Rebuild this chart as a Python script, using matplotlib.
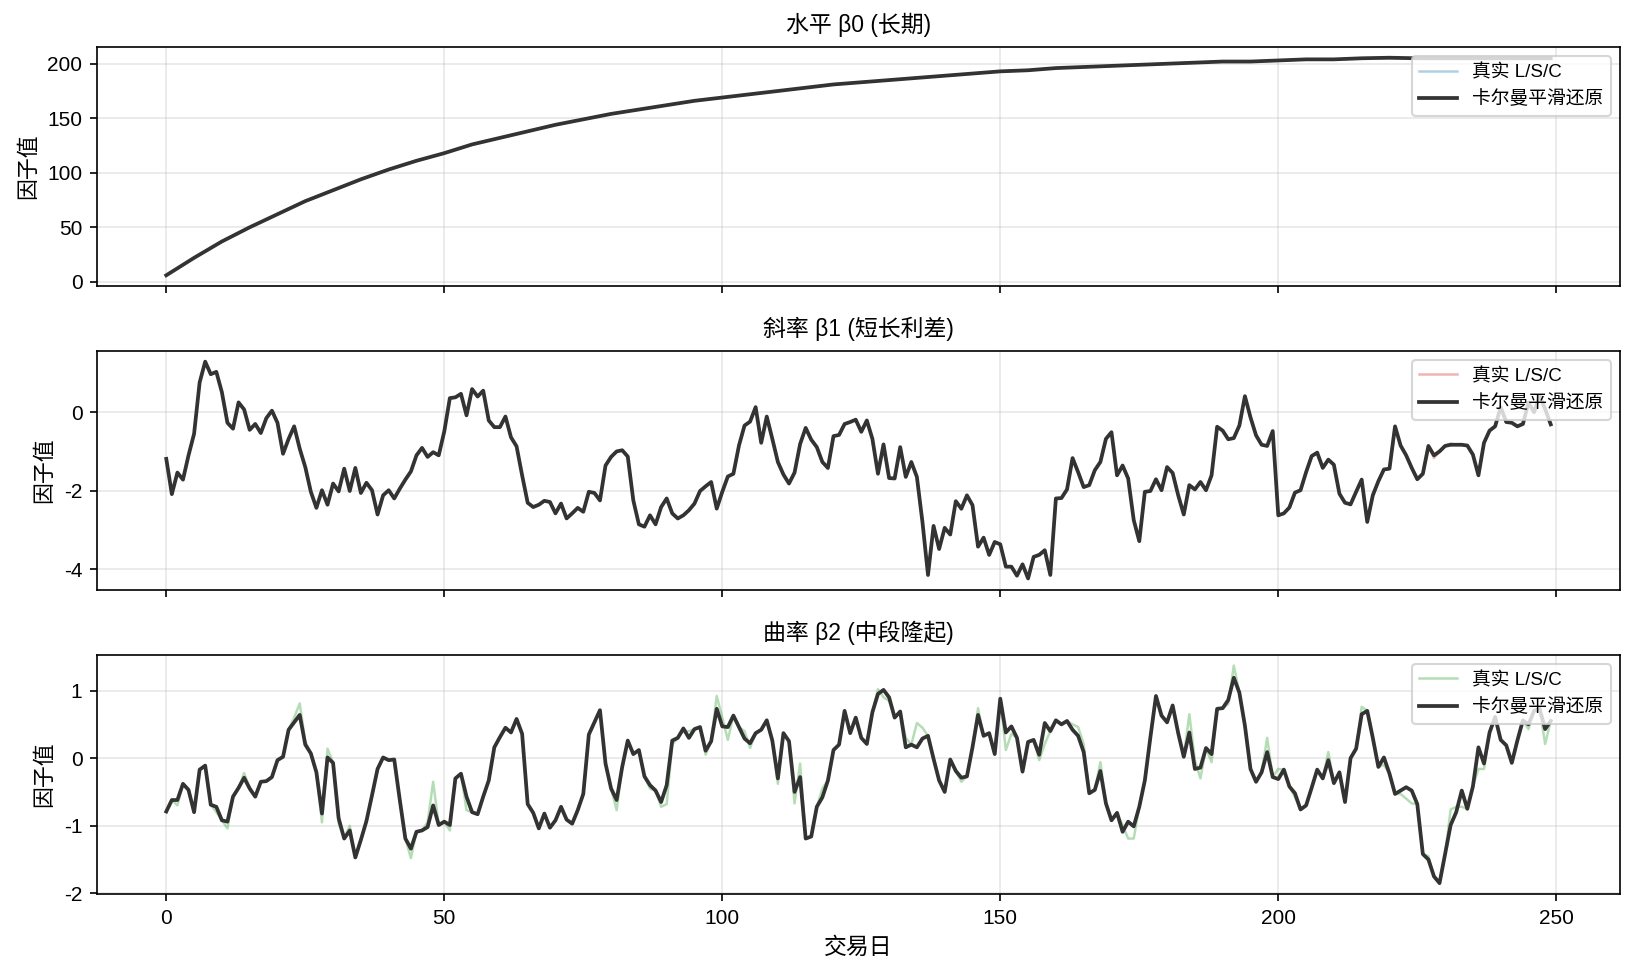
import matplotlib
matplotlib.use("Agg")
import matplotlib.pyplot as plt
import numpy as np

plt.rcParams['font.family'] = ['Liberation Sans', 'Noto Sans CJK SC', 'DejaVu Sans']
plt.rcParams['axes.unicode_minus'] = False

# level factor, read every 5 trading days
level_days = [0, 5, 10, 15, 20, 25, 30, 35, 40, 45, 50, 55, 60, 65, 70, 75, 80, 85, 90, 95,
              100, 105, 110, 115, 120, 125, 130, 135, 140, 145, 150, 155, 160, 165, 170, 175,
              180, 185, 190, 195, 200, 205, 210, 215, 220, 225, 230, 235, 240, 245, 249]
level_true = [6, 22, 37, 50, 62, 74, 84, 94, 103, 111, 118, 126, 132, 138, 144, 149, 154, 158,
              162, 166, 169, 172, 175, 178, 181, 183, 185, 187, 189, 191, 193, 194, 196, 197,
              198, 199, 200, 201, 202, 202, 203, 204, 204, 205, 205, 205, 205, 205, 205, 205, 205]
level_smooth = [6, 22, 37, 50, 62, 74, 84, 94, 103, 111, 118, 126, 132, 138, 144, 149, 154, 158,
                162, 166, 169, 172, 175, 178, 181, 183, 185, 187, 189, 191, 193, 194, 196, 197,
                198, 199, 200, 201, 202, 202, 203, 204, 204, 205, 205.5, 205, 205, 205, 205, 205, 205]

slope_smooth = [
    -1.19, -2.09, -1.54, -1.72, -1.10, -0.55, 0.76, 1.29, 0.97, 1.03,
    0.51, -0.27, -0.42, 0.25, 0.07, -0.45, -0.30, -0.53, -0.15, 0.04,
    -0.27, -1.06, -0.68, -0.36, -0.93, -1.40, -2.03, -2.44, -1.99, -2.36,
    -1.82, -2.02, -1.44, -2.01, -1.42, -2.06, -1.80, -1.99, -2.61, -2.12,
    -1.99, -2.20, -1.95, -1.72, -1.51, -1.10, -0.91, -1.14, -1.02, -1.10,
    -0.49, 0.36, 0.38, 0.47, -0.08, 0.59, 0.40, 0.55, -0.21, -0.38,
    -0.38, -0.11, -0.64, -0.87, -1.61, -2.31, -2.42, -2.36, -2.26, -2.29,
    -2.58, -2.33, -2.71, -2.58, -2.44, -2.54, -2.03, -2.06, -2.25, -1.36,
    -1.14, -1.00, -0.97, -1.13, -2.25, -2.86, -2.92, -2.63, -2.86, -2.42,
    -2.20, -2.58, -2.71, -2.63, -2.50, -2.33, -2.01, -1.89, -1.78, -2.46,
    -2.03, -1.64, -1.57, -0.85, -0.34, -0.24, 0.13, -0.78, -0.11, -0.68,
    -1.27, -1.59, -1.82, -1.54, -0.81, -0.40, -0.70, -0.89, -1.27, -1.42,
    -0.61, -0.58, -0.30, -0.25, -0.19, -0.50, -0.21, -0.68, -1.57, -0.82,
    -1.68, -1.69, -0.89, -1.65, -1.27, -1.65, -2.80, -4.15, -2.90, -3.49,
    -2.95, -3.12, -2.27, -2.46, -2.12, -2.37, -3.43, -3.20, -3.64, -3.31,
    -3.37, -3.94, -3.94, -4.17, -3.88, -4.24, -3.69, -3.64, -3.52, -4.15,
    -2.20, -2.19, -1.97, -1.17, -1.53, -1.91, -1.86, -1.48, -1.27, -0.68,
    -0.51, -1.61, -1.36, -1.69, -2.75, -3.29, -2.03, -2.01, -1.71, -1.99,
    -1.40, -1.55, -2.12, -2.61, -1.86, -1.97, -1.78, -1.99, -1.61, -0.37,
    -0.47, -0.69, -0.66, -0.34, 0.41, -0.13, -0.59, -0.83, -0.86, -0.48,
    -2.63, -2.58, -2.43, -2.05, -1.99, -1.53, -1.12, -1.03, -1.42, -1.21,
    -1.34, -2.08, -2.31, -2.35, -2.03, -1.72, -2.80, -2.12, -1.76, -1.46,
    -1.44, -0.36, -0.85, -1.10, -1.42, -1.71, -1.57, -0.86, -1.10, -1.00,
    -0.86, -0.83, -0.83, -0.83, -0.85, -1.08, -1.61, -0.78, -0.47, -0.36,
    0.13, -0.25, -0.27, -0.36, -0.30, 0.25, 0.00, 0.42, 0.08, -0.31]
slope_true = [
    -1.19, -2.09, -1.54, -1.72, -1.10, -0.55, 0.76, 1.29, 0.97, 1.03,
    0.51, -0.27, -0.42, 0.25, 0.07, -0.45, -0.30, -0.53, -0.15, 0.04,
    -0.27, -1.06, -0.68, -0.36, -0.93, -1.40, -2.03, -2.44, -1.99, -2.36,
    -1.82, -2.02, -1.44, -2.01, -1.42, -2.06, -1.80, -1.99, -2.61, -2.12,
    -1.99, -2.20, -1.95, -1.72, -1.51, -1.10, -0.91, -1.14, -1.02, -1.10,
    -0.49, 0.34, 0.38, 0.47, -0.08, 0.59, 0.40, 0.55, -0.21, -0.40,
    -0.40, -0.11, -0.64, -0.87, -1.61, -2.31, -2.40, -2.36, -2.26, -2.29,
    -2.58, -2.33, -2.71, -2.58, -2.44, -2.54, -2.03, -2.06, -2.25, -1.36,
    -1.14, -1.00, -0.97, -1.13, -2.25, -2.86, -2.92, -2.63, -2.86, -2.42,
    -2.20, -2.60, -2.73, -2.63, -2.50, -2.33, -2.01, -1.89, -1.78, -2.46,
    -2.03, -1.64, -1.57, -0.85, -0.34, -0.24, 0.13, -0.78, -0.11, -0.68,
    -1.27, -1.59, -1.82, -1.54, -0.81, -0.40, -0.70, -0.89, -1.27, -1.45,
    -0.61, -0.58, -0.30, -0.25, -0.19, -0.50, -0.21, -0.68, -1.57, -0.82,
    -1.68, -1.69, -0.89, -1.65, -1.27, -1.65, -2.80, -4.18, -2.90, -3.49,
    -2.95, -3.12, -2.27, -2.49, -2.12, -2.37, -3.43, -3.20, -3.64, -3.31,
    -3.37, -3.94, -3.94, -4.17, -3.88, -4.26, -3.69, -3.62, -3.52, -4.17,
    -2.20, -2.19, -1.97, -1.17, -1.53, -1.91, -1.86, -1.48, -1.27, -0.68,
    -0.51, -1.61, -1.36, -1.69, -2.75, -3.29, -2.03, -2.01, -1.71, -1.99,
    -1.40, -1.55, -2.12, -2.61, -1.86, -1.97, -1.78, -1.99, -1.61, -0.37,
    -0.47, -0.69, -0.66, -0.34, 0.41, -0.13, -0.59, -0.83, -0.86, -0.48,
    -2.63, -2.58, -2.43, -2.05, -1.99, -1.53, -1.12, -1.05, -1.42, -1.21,
    -1.34, -2.08, -2.31, -2.37, -2.03, -1.70, -2.80, -2.12, -1.76, -1.46,
    -1.44, -0.36, -0.85, -1.10, -1.42, -1.71, -1.57, -0.86, -1.17, -1.00,
    -0.86, -0.80, -0.83, -0.83, -0.85, -1.08, -1.61, -0.78, -0.47, -0.36,
    0.13, -0.25, -0.27, -0.36, -0.30, 0.25, 0.00, 0.42, 0.08, -0.31]

curv_smooth = [
    -0.79, -0.62, -0.62, -0.38, -0.47, -0.80, -0.17, -0.11, -0.69, -0.72,
    -0.92, -0.94, -0.57, -0.44, -0.29, -0.45, -0.57, -0.35, -0.34, -0.28,
    -0.03, 0.02, 0.42, 0.53, 0.64, 0.20, 0.07, -0.21, -0.82, 0.01,
    -0.07, -0.89, -1.19, -1.07, -1.47, -1.21, -0.93, -0.55, -0.16, 0.01,
    -0.03, -0.02, -0.62, -1.19, -1.34, -1.09, -1.07, -1.02, -0.70, -0.99,
    -0.94, -0.99, -0.30, -0.23, -0.57, -0.80, -0.83, -0.57, -0.33, 0.16,
    0.31, 0.45, 0.38, 0.58, 0.36, -0.68, -0.81, -1.04, -0.82, -1.03,
    -0.92, -0.72, -0.91, -0.97, -0.77, -0.53, 0.35, 0.53, 0.71, -0.08,
    -0.45, -0.62, -0.13, 0.26, 0.06, 0.12, -0.27, -0.40, -0.48, -0.65,
    -0.40, 0.26, 0.30, 0.44, 0.30, 0.43, 0.46, 0.11, 0.25, 0.73,
    0.47, 0.46, 0.63, 0.46, 0.29, 0.22, 0.37, 0.42, 0.56, 0.26,
    -0.30, 0.37, 0.25, -0.50, -0.28, -1.19, -1.16, -0.72, -0.58, -0.33,
    0.12, 0.20, 0.70, 0.37, 0.60, 0.30, 0.21, 0.68, 0.95, 1.01,
    0.90, 0.60, 0.69, 0.16, 0.20, 0.16, 0.29, 0.33, -0.01, -0.33,
    -0.50, -0.02, -0.19, -0.29, -0.27, 0.16, 0.64, 0.33, 0.37, 0.06,
    0.88, 0.38, 0.47, 0.30, -0.20, 0.24, 0.27, 0.05, 0.52, 0.40,
    0.56, 0.50, 0.55, 0.42, 0.33, 0.09, -0.52, -0.47, -0.19, -0.67,
    -0.92, -0.81, -1.09, -0.94, -1.01, -0.72, -0.33, 0.31, 0.92, 0.63,
    0.53, 0.78, 0.37, 0.02, 0.38, -0.16, -0.14, 0.15, 0.06, 0.73,
    0.74, 0.86, 1.19, 0.97, 0.48, -0.16, -0.35, -0.21, 0.09, -0.28,
    -0.31, -0.17, -0.42, -0.52, -0.76, -0.70, -0.44, -0.17, -0.30, -0.03,
    -0.37, -0.21, -0.65, 0.00, 0.14, 0.65, 0.70, 0.30, -0.13, 0.01,
    -0.23, -0.53, -0.48, -0.43, -0.48, -0.68, -1.42, -1.50, -1.75, -1.85,
    -1.42, -0.99, -0.80, -0.48, -0.75, -0.42, 0.16, -0.08, 0.38, 0.61,
    0.27, 0.19, -0.07, 0.26, 0.56, 0.50, 0.70, 0.73, 0.43, 0.55]
curv_true = [
    -0.79, -0.62, -0.70, -0.38, -0.47, -0.80, -0.17, -0.11, -0.69, -0.80,
    -0.92, -1.04, -0.57, -0.44, -0.22, -0.45, -0.57, -0.35, -0.34, -0.28,
    -0.03, 0.02, 0.42, 0.60, 0.81, 0.25, 0.07, -0.21, -0.95, 0.14,
    -0.07, -0.97, -1.19, -1.00, -1.47, -1.21, -0.93, -0.55, -0.16, 0.01,
    -0.03, -0.02, -0.62, -1.19, -1.48, -1.09, -1.07, -0.95, -0.35, -0.99,
    -0.94, -1.07, -0.30, -0.23, -0.77, -0.80, -0.83, -0.57, -0.33, 0.16,
    0.31, 0.45, 0.38, 0.58, 0.36, -0.68, -0.81, -1.04, -0.82, -1.03,
    -0.92, -0.72, -0.91, -0.97, -0.77, -0.53, 0.35, 0.53, 0.71, -0.08,
    -0.45, -0.77, -0.13, 0.26, 0.06, 0.12, -0.27, -0.45, -0.48, -0.72,
    -0.68, 0.20, 0.30, 0.40, 0.40, 0.43, 0.46, 0.05, 0.25, 0.92,
    0.60, 0.27, 0.63, 0.46, 0.40, 0.15, 0.37, 0.42, 0.56, 0.26,
    -0.38, 0.37, 0.25, -0.67, -0.08, -1.19, -1.16, -0.72, -0.45, -0.33,
    0.12, 0.20, 0.70, 0.37, 0.60, 0.30, 0.21, 0.68, 1.02, 0.90,
    0.85, 0.60, 0.69, 0.30, 0.20, 0.52, 0.45, 0.33, -0.01, -0.33,
    -0.50, -0.02, -0.19, -0.35, -0.27, 0.16, 0.74, 0.33, 0.37, 0.06,
    0.88, 0.12, 0.36, 0.30, -0.20, 0.24, 0.27, -0.03, 0.21, 0.40,
    0.56, 0.50, 0.55, 0.50, 0.46, 0.21, -0.52, -0.47, -0.06, -0.67,
    -0.92, -0.81, -0.99, -1.19, -1.19, -0.72, -0.33, 0.31, 0.92, 0.63,
    0.53, 0.78, 0.37, 0.02, 0.65, -0.03, -0.30, 0.15, -0.06, 0.73,
    0.74, 0.80, 1.37, 0.97, 0.48, -0.16, -0.35, -0.21, 0.30, -0.28,
    -0.16, -0.17, -0.42, -0.58, -0.76, -0.70, -0.44, -0.17, -0.30, 0.09,
    -0.37, -0.21, -0.65, 0.00, 0.14, 0.76, 0.70, 0.30, -0.13, -0.10,
    -0.23, -0.53, -0.53, -0.60, -0.67, -0.68, -1.42, -1.45, -1.75, -1.85,
    -1.42, -0.76, -0.72, -0.72, -0.75, -0.42, -0.16, -0.16, 0.38, 0.61,
    0.27, 0.19, -0.07, 0.26, 0.56, 0.43, 0.70, 0.73, 0.21, 0.55]

days = np.arange(len(slope_smooth))

titles = ['水平 β0 (长期)', '斜率 β1 (短长利差)', '曲率 β2 (中段隆起)']
true_colors = ['C0', 'C3', 'C2']

fig, axes = plt.subplots(3, 1, figsize=(1634 / 150, 976 / 150), dpi=150, sharex=True)
fig.subplots_adjust(left=0.0594, right=0.9914, bottom=0.084, top=0.952, hspace=0.27)

series = [(level_days, level_true, level_smooth),
          (days, slope_true, slope_smooth),
          (days, curv_true, curv_smooth)]

for ax, (x, tr, sm), title, col in zip(axes, series, titles, true_colors):
    ax.plot(x, tr, color=col, alpha=0.35, lw=1.2, label='真实 L/S/C')
    ax.plot(x, sm, color='#333333', lw=1.8, label='卡尔曼平滑还原')
    ax.set_title(title, fontsize=11, pad=7)
    ax.set_ylabel('因子值', fontsize=10.5)
    ax.grid(True, alpha=0.3)
    ax.tick_params(labelsize=10)
    ax.legend(loc='upper right', fontsize=9, borderaxespad=0.5)

axes[2].set_xlabel('交易日', fontsize=11)

fig.savefig('out.png', dpi=150)
